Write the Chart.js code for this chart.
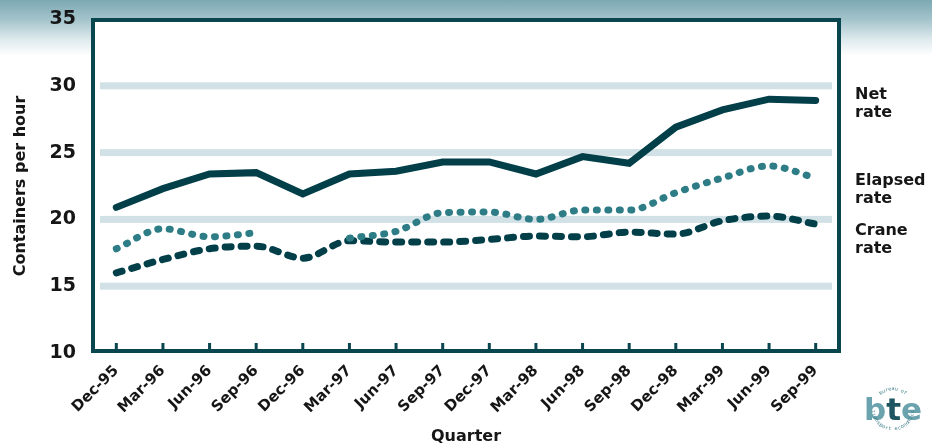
<!DOCTYPE html>
<html>
<head>
<meta charset="utf-8">
<title>Containers per hour</title>
<script src="https://cdn.jsdelivr.net/npm/chart.js@4.4.1/dist/chart.umd.min.js"></script>
<style>
    html, body {
        margin: 0;
        padding: 0;
    }
    body {
        width: 932px;
        height: 448px;
        background: linear-gradient(to bottom, #7ca9b3 0px, #a5c4cc 20px, #dfebee 40px, #ffffff 56px);
    }
    #wrap {
        position: relative;
        width: 932px;
        height: 448px;
    }
</style>
</head>
<body>
<div id="wrap"><canvas id="chart" width="932" height="448"></canvas></div>
<script>
// Quarterly stevedoring rates
const quarters = ['Dec-95', 'Mar-96', 'Jun-96', 'Sep-96', 'Dec-96', 'Mar-97', 'Jun-97', 'Sep-97',
                  'Dec-97', 'Mar-98', 'Jun-98', 'Sep-98', 'Dec-98', 'Mar-99', 'Jun-99', 'Sep-99'];
const netRate     = [20.9, 22.3, 23.4, 23.5, 21.9, 23.4, 23.6, 24.3, 24.3, 23.4, 24.7, 24.2, 26.9, 28.2, 29.0, 28.9];
const elapsedRate = [17.8, 19.3, 18.7, 19.0, null, 18.6, 19.1, 20.5, 20.55, 20.0, 20.7, 20.7, 22.0, 23.1, 24.0, 23.1];
const craneRate   = [16.0, 17.0, 17.8, 18.0, 17.1, 18.4, 18.3, 18.3, 18.5, 18.75, 18.7, 19.05, 18.9, 19.9, 20.25, 19.65];
const yTicks      = [10, 15, 20, 25, 30, 35];
const bandValues  = [15, 20, 25, 30];

const seriesLabels = [
    { lines: ['Net', 'rate'], y: 95 },
    { lines: ['Elapsed', 'rate'], y: 181 },
    { lines: ['Crane', 'rate'], y: 231 }
];

const dark = '#023f49';
const teal = '#2e7c86';
const textColor = '#161616';
const fontFamily = '"DejaVu Sans", sans-serif';

// white plot area, pale bands, frame and inward tick marks
const framePlugin = {
    id: 'frame',
    beforeDatasetsDraw(chart) {
        const { ctx, chartArea: a, scales } = chart;
        ctx.save();
        ctx.fillStyle = '#ffffff';
        ctx.fillRect(a.left, a.top, a.right - a.left, a.bottom - a.top);

        ctx.fillStyle = '#d1e1e6';
        bandValues.forEach(v => {
            const y = scales.y.getPixelForValue(v);
            ctx.fillRect(a.left + 7, y - 3.5, a.right - a.left - 14, 7);
        });

        ctx.strokeStyle = '#0a4650';
        ctx.lineWidth = 4;
        ctx.strokeRect(a.left, a.top + 1, a.right - a.left, a.bottom - a.top - 3);

        ctx.lineWidth = 3;
        ctx.beginPath();
        quarters.forEach((q, i) => {
            const x = scales.x.getPixelForTick(i);
            ctx.moveTo(x, a.bottom - 3);
            ctx.lineTo(x, a.bottom - 10);
        });
        ctx.stroke();
        ctx.restore();
    },
    afterDraw(chart) {
        const { ctx, chartArea: a } = chart;
        ctx.save();
        ctx.fillStyle = textColor;
        ctx.font = 'bold 16px ' + fontFamily;
        ctx.textAlign = 'left';
        ctx.textBaseline = 'middle';
        seriesLabels.forEach(s => {
            s.lines.forEach((line, i) => {
                ctx.fillText(line, a.right + 16, s.y + i * 18);
            });
        });
        drawLogo(ctx, 893, 409);
        ctx.restore();
    }
};

// small "bte" roundel in the corner
function drawLogo(ctx, cx, cy) {
    ctx.save();
    ctx.textBaseline = 'alphabetic';
    ctx.font = 'bold 31px ' + fontFamily;
    const parts = [['b', '#6aa3ad'], ['t', '#1d5660'], ['e', '#6aa3ad']];
    let total = 0;
    parts.forEach(p => { total += ctx.measureText(p[0]).width; });
    let x = cx - total / 2;
    ctx.textAlign = 'left';
    parts.forEach(p => {
        ctx.fillStyle = p[1];
        ctx.fillText(p[0], x, cy + 11);
        x += ctx.measureText(p[0]).width;
    });
    arcText(ctx, 'bureau of', cx, cy, 20, -Math.PI / 2, true);
    arcText(ctx, 'transport economics', cx, cy, 20, Math.PI / 2, false);
    ctx.restore();
}

function arcText(ctx, text, cx, cy, r, mid, top) {
    ctx.save();
    ctx.font = '5px ' + fontFamily;
    ctx.fillStyle = '#3f7f89';
    ctx.textAlign = 'center';
    ctx.textBaseline = 'middle';
    const step = 0.16;
    const start = top ? mid - step * (text.length - 1) / 2 : mid + step * (text.length - 1) / 2;
    for (let i = 0; i < text.length; i++) {
        const ang = top ? start + i * step : start - i * step;
        ctx.save();
        ctx.translate(cx + r * Math.cos(ang), cy + r * Math.sin(ang));
        ctx.rotate(top ? ang + Math.PI / 2 : ang - Math.PI / 2);
        ctx.fillText(text[i], 0, 0);
        ctx.restore();
    }
    ctx.restore();
}

const ctx = document.getElementById('chart').getContext('2d');

new Chart(ctx, {
    type: 'line',
    data: {
        labels: quarters,
        datasets: [
            {
                label: 'Net rate',
                data: netRate,
                borderColor: dark,
                borderWidth: 7,
                borderCapStyle: 'round',
                borderJoinStyle: 'miter',
                pointRadius: 0,
                tension: 0
            },
            {
                label: 'Elapsed rate',
                data: elapsedRate,
                borderColor: teal,
                borderWidth: 7,
                borderCapStyle: 'round',
                borderDash: [1, 10.5],
                pointRadius: 0,
                cubicInterpolationMode: 'monotone',
                spanGaps: false
            },
            {
                label: 'Crane rate',
                data: craneRate,
                borderColor: dark,
                borderWidth: 7,
                borderCapStyle: 'round',
                borderDash: [6, 10],
                pointRadius: 0,
                cubicInterpolationMode: 'monotone'
            }
        ]
    },
    options: {
        responsive: false,
        animation: false,
        events: [],
        layout: {
            padding: { top: 19, right: 93, left: 0, bottom: 0 }
        },
        plugins: {
            legend: { display: false },
            tooltip: { enabled: false }
        },
        scales: {
            x: {
                type: 'category',
                offset: true,
                grid: { display: false, drawTicks: false },
                border: { display: false },
                ticks: {
                    autoSkip: false,
                    minRotation: 45,
                    maxRotation: 45,
                    padding: 9,
                    color: textColor,
                    font: { family: fontFamily, size: 15, weight: 'bold' }
                },
                title: {
                    display: true,
                    text: 'Quarter',
                    color: textColor,
                    padding: { top: 2, bottom: 2 },
                    font: { family: fontFamily, size: 16, weight: 'bold' }
                },
                afterFit(scale) {
                    scale.height = 95;
                    scale.paddingLeft = 0;
                    scale.paddingRight = 0;
                }
            },
            y: {
                min: 10,
                max: 35,
                afterBuildTicks(scale) {
                    scale.ticks = yTicks.map(v => ({ value: v }));
                },
                grid: { display: false, drawTicks: false },
                border: { display: false },
                ticks: {
                    padding: 17,
                    color: textColor,
                    font: { family: fontFamily, size: 19, weight: 'bold' }
                },
                title: {
                    display: true,
                    text: 'Containers per hour',
                    color: textColor,
                    padding: { top: 11, bottom: 0 },
                    font: { family: fontFamily, size: 16, weight: 'bold' }
                },
                afterFit(scale) {
                    scale.width = 93;
                    scale.paddingTop = 0;
                    scale.paddingBottom = 0;
                }
            }
        }
    },
    plugins: [framePlugin]
});
</script>
</body>
</html>
